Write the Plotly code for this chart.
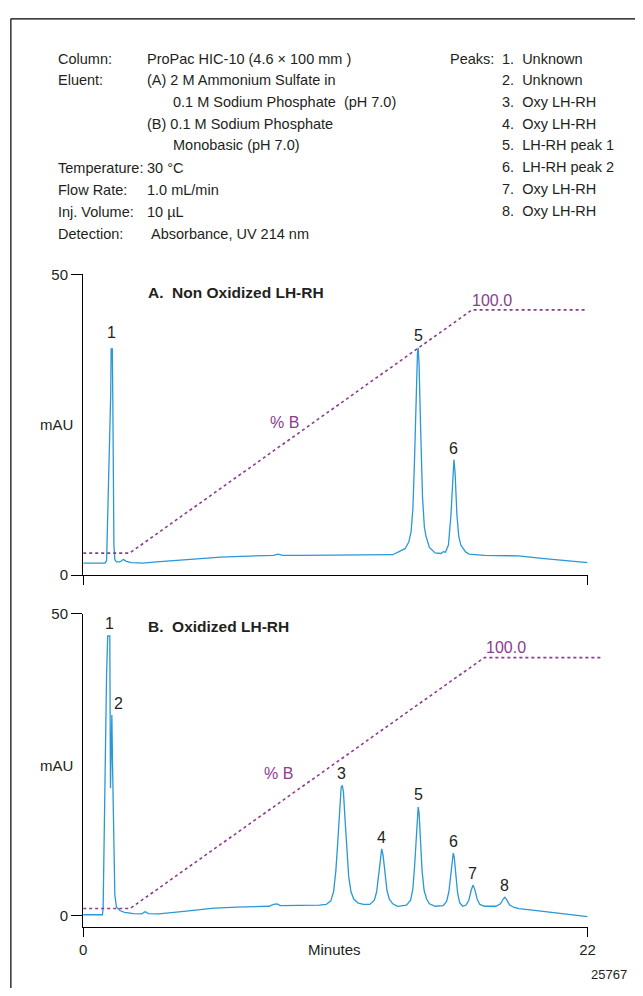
import plotly.graph_objects as go

# ---------------- data ----------------
# Panel A: Non Oxidized LH-RH  (time in minutes, absorbance in mAU)
signal_a = [
    (0.0, 2.0), (0.5, 2.0), (0.95, 2.0), (1.02, 2.4), (1.06, 8.0), (1.10, 16.0),
    (1.15, 21.5), (1.18, 22.7), (1.20, 30.0), (1.22, 37.6), (1.25, 37.6), (1.27, 37.6),
    (1.29, 30.0), (1.31, 15.0), (1.34, 5.0), (1.38, 2.6), (1.45, 2.2), (1.6, 2.2),
    (1.75, 2.6), (1.8, 2.5), (1.88, 2.3), (2.1, 2.1), (2.6, 2.0), (3.2, 2.2),
    (4.5, 2.6), (6.0, 3.0), (7.5, 3.2), (8.3, 3.3), (8.5, 3.5), (8.7, 3.3),
    (9.5, 3.3), (11.0, 3.3), (12.5, 3.3), (13.5, 3.4), (14.04, 4.4), (14.2, 5.5),
    (14.3, 7.2), (14.38, 11.0), (14.45, 19.0), (14.52, 30.0), (14.58, 37.0), (14.61, 37.8),
    (14.65, 35.0), (14.72, 24.0), (14.8, 13.0), (14.88, 8.0), (14.95, 6.5), (15.1, 4.6),
    (15.35, 3.7), (15.6, 3.6), (15.71, 3.9), (15.8, 3.8), (15.93, 5.0), (16.04, 10.0),
    (16.12, 17.5), (16.17, 19.2), (16.22, 17.0), (16.3, 10.0), (16.38, 6.5), (16.47, 5.0),
    (16.67, 3.9), (16.83, 3.5), (17.5, 3.3), (18.5, 3.3), (19.0, 3.2), (20.0, 2.8),
    (21.0, 2.4), (22.0, 2.1),
]
pct_b_time_a = [0.0, 2.02, 16.96, 21.9]
pct_b_a = [0, 0, 100, 100]

# Panel B: Oxidized LH-RH
signal_b = [
    (0.0, 0.2), (0.84, 0.2), (0.87, 1.5), (0.92, 15.0), (0.97, 34.0), (0.99, 35.4),
    (1.02, 40.0), (1.07, 46.3), (1.16, 46.3), (1.19, 21.1), (1.22, 28.0), (1.25, 33.2),
    (1.28, 25.0), (1.33, 10.0), (1.38, 3.5), (1.45, 1.5), (1.6, 0.9), (1.8, 0.6),
    (2.2, 0.4), (2.55, 0.35), (2.7, 0.7), (2.85, 0.4), (3.3, 0.35), (4.5, 0.8),
    (5.7, 1.3), (7.0, 1.5), (8.1, 1.6), (8.3, 1.9), (8.45, 2.0), (8.6, 1.7),
    (9.5, 1.7), (10.3, 1.8), (10.6, 1.9), (10.8, 2.5), (10.92, 4.0), (11.02, 7.5),
    (11.1, 12.0), (11.18, 18.0), (11.25, 21.2), (11.3, 21.6), (11.35, 20.5), (11.42, 16.0),
    (11.5, 10.5), (11.58, 6.5), (11.68, 4.0), (11.8, 2.8), (12.0, 2.1), (12.23, 1.9),
    (12.5, 1.9), (12.7, 2.6), (12.8, 4.0), (12.88, 6.5), (12.95, 9.5), (13.02, 11.1),
    (13.08, 10.0), (13.16, 7.0), (13.25, 4.2), (13.35, 2.8), (13.5, 2.0), (13.71, 1.6),
    (14.1, 1.8), (14.28, 2.6), (14.38, 4.5), (14.46, 8.5), (14.53, 14.0), (14.58, 17.2),
    (14.61, 18.0), (14.65, 17.0), (14.71, 12.5), (14.78, 7.5), (14.87, 4.2), (14.98, 2.8),
    (15.1, 2.0), (15.35, 1.6), (15.7, 1.7), (15.85, 2.4), (15.95, 4.0), (16.03, 7.0),
    (16.1, 9.8), (16.14, 10.4), (16.18, 9.8), (16.25, 6.8), (16.33, 3.8), (16.42, 2.2),
    (16.55, 1.6), (16.7, 1.8), (16.82, 2.6), (16.92, 4.2), (17.0, 5.1), (17.08, 4.4),
    (17.18, 2.8), (17.3, 1.9), (17.5, 1.6), (18.0, 1.6), (18.2, 2.0), (18.32, 2.8),
    (18.39, 3.1), (18.47, 2.7), (18.6, 1.8), (18.8, 1.4), (19.0, 1.2), (19.5, 1.0),
    (20.2, 0.7), (21.0, 0.4), (21.6, 0.15), (22.0, -0.1),
]
pct_b_time_b = [0.0, 2.05, 17.49, 22.65]
pct_b_b = [0, 0, 100, 100]

# peak labels: (label, time, mAU at label centre)
peak_labels_a = [("1", 1.23, 40.4), ("5", 14.61, 39.9), ("6", 16.17, 21.0)]
peak_labels_b = [("1", 1.15, 48.4), ("2", 1.56, 35.1), ("3", 11.28, 23.5), ("4", 13.0, 12.9),
                 ("5", 14.61, 20.0), ("6", 16.14, 12.3), ("7", 17.0, 7.1), ("8", 18.39, 5.1)]

x_ticks = [0, 22]
y_ticks = [0, 50]

header_left = [
    ("Column:", "ProPac HIC-10 (4.6 × 100 mm )"),
    ("Eluent:", "(A) 2 M Ammonium Sulfate in"),
    ("", "0.1 M Sodium Phosphate  (pH 7.0)"),
    ("", "(B) 0.1 M Sodium Phosphate"),
    ("", "Monobasic (pH 7.0)"),
    ("Temperature:", "30 °C"),
    ("Flow Rate:", "1.0 mL/min"),
    ("Inj. Volume:", "10 µL"),
    ("Detection:", "Absorbance, UV 214 nm"),
]
peaks_list = ["1.  Unknown", "2.  Unknown", "3.  Oxy LH-RH", "4.  Oxy LH-RH",
              "5.  LH-RH peak 1", "6.  LH-RH peak 2", "7.  Oxy LH-RH", "8.  Oxy LH-RH"]

# ---------------- layout geometry (pixels) ----------------
W, H = 643, 996
def px(x): return x / W
def py(y): return 1 - y / H

X0, X22 = 80.7, 594.7
PPM = (X22 - X0) / 22.0
A_TOP, A_ZERO = 270.0, 576.0
B_TOP, B_ZERO, B_BOT = 615.0, 922.7, 934.0
b_ppu = (B_ZERO - B_TOP) / 50.0
b_min = -(B_BOT - B_ZERO) / b_ppu

A_P0, A_P100 = 3.66, 44.1
B_P0, B_P100 = 1.24, 42.7
def pct_range(lo, hi, p0, p100):
    k = 100.0 / (p100 - p0)
    return [(lo - p0) * k, (hi - p0) * k]

B_PCT_RIGHT = 612.0

BLUE = "#2a97d6"
PURPLE = "#8c3b8f"
TXT = "#231f20"
FONT = "Liberation Sans, Arial, sans-serif"

fig = go.Figure()

ta = [p[0] for p in signal_a]; va = [p[1] for p in signal_a]
tb = [p[0] for p in signal_b]; vb = [p[1] for p in signal_b]

fig.add_trace(go.Scatter(x=ta, y=va, xaxis="x2", yaxis="y2", mode="lines",
                         line=dict(color=BLUE, width=1.3), hoverinfo="skip"))
fig.add_trace(go.Scatter(x=pct_b_time_a, y=pct_b_a, xaxis="x2", yaxis="y3", mode="lines",
                         line=dict(color=PURPLE, width=1.6, dash="dot"), hoverinfo="skip"))
fig.add_trace(go.Scatter(x=tb, y=vb, xaxis="x", yaxis="y", mode="lines",
                         line=dict(color=BLUE, width=1.3), hoverinfo="skip"))
fig.add_trace(go.Scatter(x=pct_b_time_b, y=pct_b_b, xaxis="x3", yaxis="y4", mode="lines",
                         line=dict(color=PURPLE, width=1.6, dash="dot"), hoverinfo="skip"))

axis_common = dict(showline=True, linecolor="black", linewidth=1.4, ticks="outside",
                   tickcolor="black", tickwidth=1.4, showgrid=False, zeroline=False,
                   tickfont=dict(family=FONT, size=15, color=TXT), fixedrange=True)

dom_x = [px(X0), px(X22)]
fig.update_layout(
    width=W, height=H, margin=dict(l=0, r=0, t=0, b=0),
    paper_bgcolor="white", plot_bgcolor="rgba(0,0,0,0)", showlegend=False,
    xaxis=dict(domain=dom_x, range=[0, 22], anchor="y", tickvals=x_ticks, ticklen=9, **axis_common),
    yaxis=dict(domain=[py(B_BOT), py(B_TOP)], range=[b_min, 50], anchor="x",
               tickvals=y_ticks, ticklen=11, **axis_common),
    xaxis2=dict(domain=dom_x, range=[0, 22], anchor="y2", tickvals=x_ticks, ticklen=9,
                showticklabels=False, **axis_common),
    yaxis2=dict(domain=[py(A_ZERO), py(A_TOP)], range=[0, 50], anchor="x2",
                tickvals=y_ticks, ticklen=11, **axis_common),
    yaxis3=dict(overlaying="y2", anchor="x2", range=pct_range(0, 50, A_P0, A_P100),
                visible=False, fixedrange=True),
    xaxis3=dict(domain=[px(X0), px(B_PCT_RIGHT)], range=[0, (B_PCT_RIGHT - X0) / PPM],
                anchor="y4", visible=False, fixedrange=True),
    yaxis4=dict(domain=[py(B_BOT), py(B_TOP)], anchor="x3",
                range=pct_range(b_min, 50, B_P0, B_P100), visible=False, fixedrange=True),
)

ann = []
def text(x, y, s, size=15, color=TXT, family=FONT, xanchor="left", xref="paper", yref="paper"):
    ann.append(dict(x=x, y=y, xref=xref, yref=yref, text=s, showarrow=False,
                    xanchor=xanchor, yanchor="middle",
                    font=dict(family=family, size=size, color=color)))

# header
rows_y = [51, 72.5, 94.5, 116.5, 138.5, 162, 184.5, 206.5, 229]
value_x = [144, 144, 170, 144, 170, 144, 144, 144, 148]
for (lab, val), yy, vx in zip(header_left, rows_y, value_x):
    if lab:
        text(px(52.7), py(yy), lab, size=14.5)
    text(px(vx), py(yy), val, size=14.5)
peaks_y = [51, 72.5, 94.5, 116.5, 138.5, 161, 183.5, 206]
text(px(452), py(peaks_y[0]), "Peaks:", size=14.5)
for s, yy in zip(peaks_list, peaks_y):
    text(px(505), py(yy), s, size=14.5)

# panel titles
text(px(145), py(288), "<b>A.  Non Oxidized LH-RH</b>", size=15.5)
text(px(145), py(628), "<b>B.  Oxidized LH-RH</b>", size=15.5)

# y titles
text(px(54), py(423), "mAU", xanchor="center")
text(px(54), py(769.5), "mAU", xanchor="center")

# peak labels
for s, t, v in peak_labels_a:
    text(t, v, s, size=16, xanchor="center", xref="x2", yref="y2")
for s, t, v in peak_labels_b:
    text(t, v, s, size=16, xanchor="center", xref="x", yref="y")

# %B labels
text(17.85, 45.7, "100.0", size=16, color=PURPLE, xanchor="center", xref="x2", yref="y2")
text(8.79, 25.4, "% B", size=16, color=PURPLE, xanchor="center", xref="x2", yref="y2")
text(18.42, 44.3, "100.0", size=16, color=PURPLE, xanchor="center", xref="x", yref="y")
text(8.54, 23.5, "% B", size=16, color=PURPLE, xanchor="center", xref="x", yref="y")

# x title and figure number
text(px(337), py(957), "Minutes", xanchor="center")
text(px(617), py(982), "25767", size=13, xanchor="center")

fig.update_layout(annotations=ann)

# frame (left and top edges)
fig.add_shape(type="line", xref="paper", yref="paper", x0=px(7), x1=px(7), y0=0, y1=py(10),
              line=dict(color="black", width=1.2))
fig.add_shape(type="line", xref="paper", yref="paper", x0=px(7), x1=1, y0=py(10), y1=py(10),
              line=dict(color="black", width=1.2))

fig.write_html("out.html", config={"displayModeBar": False},
               post_script="document.body.style.margin='0';")
